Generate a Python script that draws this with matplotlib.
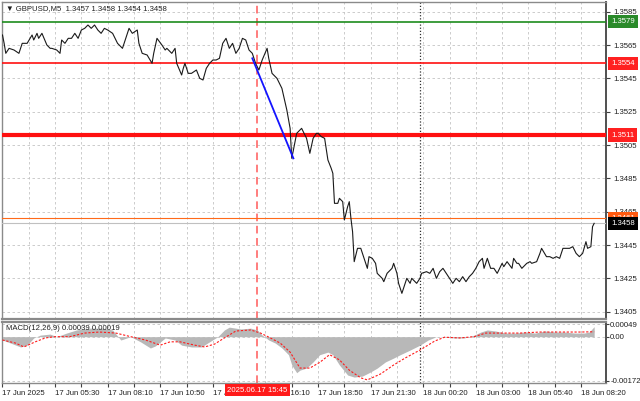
import matplotlib
matplotlib.use("Agg")
import matplotlib.pyplot as plt
from matplotlib.transforms import blended_transform_factory as blend

plt.rcParams['font.family'] = ['Liberation Sans', 'DejaVu Sans']

# GBPUSD M5 closes (bar index -> price)
price_bar = [0, 1, 2, 4, 7, 10, 12, 15, 18, 19,
             21, 22, 24, 27, 29, 30, 33, 35, 36, 38,
             40, 42, 44, 46, 48, 50, 52, 54, 56, 58,
             60, 62, 64, 67, 70, 73, 75, 77, 79, 82,
             83, 85, 88, 91, 92, 94, 97, 99, 100, 103,
             105, 106, 109, 110, 111, 113, 115, 118, 120, 122,
             124, 126, 128, 130, 132, 134, 136, 138, 140, 142,
             144, 146, 148, 150, 152, 154, 156, 158, 161, 162,
             164, 167, 170, 173, 175, 176, 179, 181, 182, 185,
             187, 189, 191, 192, 194, 196, 198, 200, 201, 202,
             204, 205, 207, 208, 210, 211, 212, 213, 214, 216,
             218, 220, 222, 223, 225, 227, 228, 231, 232, 234,
             237, 238, 240, 241, 243, 246, 248, 249, 252, 254,
             255, 258, 260, 262, 264, 266, 268, 270, 272, 274,
             276, 278, 280, 282, 284, 286, 288, 290, 292, 293,
             295, 297, 299, 301, 304, 305, 307, 310, 311, 313,
             314, 316, 319, 321, 322, 325, 327, 328, 331, 333,
             335, 337, 339, 341, 343, 345, 347, 349, 351, 353,
             355, 356, 358, 359, 360]
price_close = [1.3571, 1.3566, 1.3560, 1.3563, 1.3562, 1.3560, 1.3566, 1.3566, 1.3571, 1.3568,
               1.3572, 1.3569, 1.3572, 1.3565, 1.3563, 1.3563, 1.3562, 1.3560, 1.3568, 1.3566,
               1.3569, 1.3569, 1.3572, 1.3569, 1.3574, 1.3575, 1.3577, 1.3575, 1.3577, 1.3574,
               1.3572, 1.3575, 1.3574, 1.3572, 1.3566, 1.3563, 1.3569, 1.3575, 1.3572, 1.3574,
               1.3566, 1.3560, 1.3559, 1.3554, 1.3560, 1.3569, 1.3565, 1.3562, 1.3563, 1.3560,
               1.3563, 1.3554, 1.3547, 1.3551, 1.3554, 1.3548, 1.3548, 1.3550, 1.3545, 1.3544,
               1.3551, 1.3554, 1.3556, 1.3556, 1.3557, 1.3566, 1.3569, 1.3563, 1.3566, 1.3560,
               1.3563, 1.3569, 1.3568, 1.3562, 1.3560, 1.3554, 1.3550, 1.3556, 1.3563, 1.3557,
               1.3548, 1.3545, 1.3539, 1.3526, 1.3515, 1.3497, 1.3512, 1.3514, 1.3515, 1.3509,
               1.3500, 1.3509, 1.3512, 1.3512, 1.3510, 1.3509, 1.3496, 1.3491, 1.3488, 1.3470,
               1.3470, 1.3473, 1.3471, 1.3460, 1.3468, 1.3471, 1.3461, 1.3453, 1.3435, 1.3443,
               1.3443, 1.3437, 1.3431, 1.3438, 1.3437, 1.3434, 1.3428, 1.3425, 1.3423, 1.3428,
               1.3431, 1.3434, 1.3428, 1.3422, 1.3416, 1.3425, 1.3422, 1.3425, 1.3422, 1.3425,
               1.3428, 1.3429, 1.3428, 1.3431, 1.3425, 1.3429, 1.3431, 1.3428, 1.3425, 1.3422,
               1.3425, 1.3423, 1.3426, 1.3423, 1.3426, 1.3428, 1.3431, 1.3435, 1.3437, 1.3431,
               1.3437, 1.3431, 1.3431, 1.3428, 1.3434, 1.3432, 1.3435, 1.3431, 1.3437, 1.3434,
               1.3434, 1.3431, 1.3434, 1.3435, 1.3434, 1.3435, 1.3440, 1.3443, 1.3438, 1.3438,
               1.3437, 1.3438, 1.3437, 1.3443, 1.3443, 1.3443, 1.3444, 1.3440, 1.3438, 1.3440,
               1.3447, 1.3443, 1.3444, 1.3456, 1.3458]

# MACD(12,26,9): main histogram and signal line
macd_bar = [0, 5, 11, 15, 19, 23, 29, 33, 39, 45,
            53, 61, 67, 72, 78, 84, 90, 93, 99, 105,
            109, 115, 121, 126, 131, 135, 138, 145, 151, 155,
            158, 162, 166, 170, 174, 176, 179, 181, 185, 189,
            193, 198, 201, 205, 210, 214, 219, 224, 228, 233,
            238, 242, 248, 254, 259, 264, 269, 275, 281, 287,
            291, 295, 300, 306, 312, 318, 324, 330, 336, 342,
            348, 354, 357, 360]
macd_hist = [-0.00013, -0.00025, -0.00040, -0.00033, -0.00005, 0.00006, 0.00010, 0.0, 0.00014, 0.00026,
             0.00033, 0.00033, 0.00026, -0.00013, 0.0, -0.00020, -0.00044, -0.00036, -0.00005, -0.00013,
             -0.00033, -0.00040, -0.00040, -0.00020, 0.0, 0.00026, 0.00037, 0.00030, 0.00033, 0.00026,
             0.00006, -0.00013, -0.00025, -0.00044, -0.00070, -0.00110, -0.00140, -0.00130, -0.00122, -0.00098,
             -0.00070, -0.00060, -0.00070, -0.00110, -0.00149, -0.00157, -0.00153, -0.00137, -0.00122, -0.00098,
             -0.00083, -0.00070, -0.00052, -0.00033, -0.00013, 0.0, -0.00002, -0.00005, -0.00005, 0.00006,
             0.00018, 0.00026, 0.00022, 0.00014, 0.00014, 0.00018, 0.00014, 0.00022, 0.00018, 0.00018,
             0.00014, 0.00014, 0.00018, 0.00039]
sig_bar = [0, 8, 13, 20, 26, 32, 41, 50, 59, 69,
           78, 87, 96, 102, 108, 117, 123, 129, 135, 142,
           151, 157, 163, 169, 175, 181, 187, 193, 199, 205,
           211, 218, 222, 230, 238, 245, 254, 263, 269, 278,
           287, 294, 303, 315, 327, 339, 351, 360]
sig_val = [-0.00013, -0.00025, -0.00040, -0.00020, -0.00005, 0.0, 0.0, 0.00014, 0.00018, 0.00014,
           0.0, -0.00013, -0.00033, -0.00020, -0.00020, -0.00033, -0.00040, -0.00029, -0.00005, 0.00022,
           0.00026, 0.00014, -0.00005, -0.00025, -0.00060, -0.00122, -0.00122, -0.00100, -0.00070, -0.00090,
           -0.00130, -0.00160, -0.00168, -0.00145, -0.00110, -0.00083, -0.00052, -0.00017, -0.00002, -0.00005,
           0.0, 0.00014, 0.00014, 0.00014, 0.00018, 0.00018, 0.00018, 0.00019]

# levels drawn on the chart
level_price = [1.3579, 1.3554, 1.3511, 1.3461, 1.3458]
level_color = ['#1e8c1e', '#ff1010', '#ff1010', '#ff6a1a', '#c0c0c0']
level_width = [1.2, 1.2, 3.0, 0.8, 0.8]
box_color = ['#2a8a2a', '#ff2020', '#ff2020', '#ff5a10', '#000000']

trend_bar = [152, 177]
trend_price = [1.3557, 1.3497]
signal_bar = 155
signal_label = '2025.06.17 15:45'
day_sep_bar = 254

price_ticks = [1.3405, 1.3425, 1.3445, 1.3465, 1.3485, 1.3505, 1.3525, 1.3545, 1.3565, 1.3585]
macd_ticks = [-0.00172, 0.0, 0.00049]
macd_tick_labels = ['-0.00172', '0.00', '0.00049']
grid_bars = list(range(0, 368, 16))
time_labels = ['17 Jun 2025', '17 Jun 05:30', '17 Jun 08:10', '17 Jun 10:50', '17 Jun 13:30',
               '17 Jun 16:10', '17 Jun 18:50', '17 Jun 21:30', '18 Jun 00:20', '18 Jun 03:00',
               '18 Jun 05:40', '18 Jun 08:20']

fs = 5.6
grid_kw = dict(color='#c4c4c4', ls=(0, (3, 3)), lw=0.6)

fig = plt.figure(figsize=(6.4, 4.01), dpi=100)
fig.patch.set_facecolor('white')
ax = fig.add_axes([2 / 640, 82 / 401, 604 / 640, 317 / 401])
ax2 = fig.add_axes([2 / 640, 18 / 401, 604 / 640, 61 / 401])

# ---- price panel
ax.plot(price_bar, price_close, color='#1a1a1a', lw=0.8, zorder=4)
for p, c, w in zip(level_price, level_color, level_width):
    ax.axhline(p, color=c, lw=w, zorder=3)
ax.plot(trend_bar, trend_price, color='#1414ff', lw=1.3, zorder=5)

ax.set_xlim(-0.3, 367.2)
ax.set_ylim(1.34006, 1.35908)
ax.yaxis.tick_right()
ax.set_yticks(price_ticks)
ax.set_yticklabels([f"{v:.4f}" for v in price_ticks])
ax.set_xticks(grid_bars)
ax.tick_params(axis='x', length=0, labelbottom=False)
ax.tick_params(axis='y', length=3, width=0.8, color='#404040', labelsize=fs, pad=2, labelcolor='#202020')
ax.grid(True, **grid_kw)
ax.set_axisbelow(True)

tr = blend(ax.transAxes, ax.transData)
for p, bc in zip(level_price, box_color):
    ax.text(1 + 5 / 604, p, f"{p:.4f}", transform=tr, ha='left', va='center', color='white',
            fontsize=fs, zorder=10, clip_on=False,
            bbox=dict(boxstyle='square,pad=0.4', fc=bc, ec='none'))

ax.text(4 / 604, 1 - 7 / 317, '\u25bc GBPUSD,M5  1.3457 1.3458 1.3454 1.3458', transform=ax.transAxes,
        ha='left', va='center', fontsize=fs, color='#202020')

# ---- MACD panel
ax2.fill_between(macd_bar, 0, macd_hist, color='#b8b8b8', lw=0, zorder=3)
ax2.plot(sig_bar, sig_val, color='#ff1a1a', ls=(0, (2, 1.5)), lw=0.8, zorder=4)
ax2.set_xlim(-0.3, 367.2)
ax2.set_ylim(-0.0018, 0.00057)
ax2.yaxis.tick_right()
ax2.set_yticks(macd_ticks)
ax2.set_yticklabels(macd_tick_labels)
ax2.tick_params(axis='y', length=2, width=0.8, color='#404040', labelsize=fs, pad=1, labelcolor='#202020')
ax2.set_xticks(grid_bars)
ax2.set_xticklabels([time_labels[k // 2] if k % 2 == 0 else '' for k in range(len(grid_bars))])
for lbl in ax2.get_xticklabels():
    lbl.set_ha('left')
ax2.tick_params(axis='x', length=3, width=0.8, color='#404040', labelsize=fs, pad=2, labelcolor='#202020')
ax2.grid(True, **grid_kw)
ax2.set_axisbelow(True)
ax2.text(4 / 604, 1 - 7 / 61, 'MACD(12,26,9) 0.00039 0.00019', transform=ax2.transAxes,
         ha='left', va='center', fontsize=fs, color='#202020', zorder=6)

for a in (ax, ax2):
    a.axvline(signal_bar, color='#ff5a5a', ls=(0, (5, 3)), lw=1.1, zorder=2)
    a.axvline(day_sep_bar, color='#303030', ls=(0, (1, 1.5)), lw=0.9, zorder=2)
    for s in a.spines.values():
        s.set_color('#8a8a8a')
        s.set_linewidth(1.0)
    a.spines['right'].set_color('#505050')
    a.spines['right'].set_linewidth(1.4)
ax.spines['bottom'].set_linewidth(1.6)
ax2.spines['top'].set_linewidth(1.6)

ax2.text(signal_bar, -7 / 61, signal_label, transform=blend(ax2.transData, ax2.transAxes),
         ha='center', va='center', color='white', fontsize=fs, zorder=10, clip_on=False,
         bbox=dict(boxstyle='square,pad=0.3', fc='#ff1a1a', ec='none'))

fig.savefig('out.png', dpi=100)
